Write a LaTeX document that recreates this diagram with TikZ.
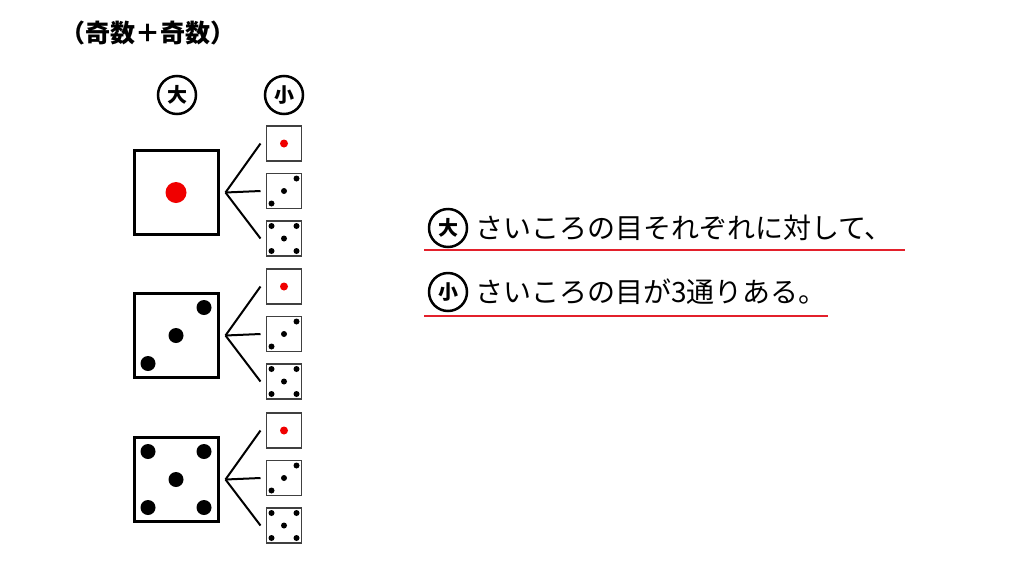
\documentclass[tikz,border=0pt]{standalone}
\usepackage{fontspec}
\newfontfamily\jp{Noto Sans CJK JP}
\definecolor{dotred}{HTML}{F00000}
\definecolor{linered}{HTML}{E3202B}
\begin{document}
\begin{tikzpicture}[x=1pt,y=-1pt,
  bigdie/.style={draw=black,line width=3pt,minimum size=84pt,inner sep=0pt,outer sep=0pt},
  smalldie/.style={draw=black!75,line width=1.5pt,minimum size=35pt,inner sep=0pt,outer sep=0pt},
  branch/.style={line width=2pt,black},
  labcirc/.style={circle,draw=black,line width=2.5pt,minimum size=38pt,inner sep=0pt,font=\jp\bfseries\fontsize{20}{20}\selectfont},
  txtcirc/.style={circle,draw=black,line width=2.5pt,minimum size=38pt,inner sep=0pt,font=\jp\bfseries\fontsize{20}{20}\selectfont},
  bodytext/.style={anchor=west,inner sep=0pt,font=\jp\fontsize{28}{30}\selectfont},
  uline/.style={draw=linered,line width=2pt}
]
\useasboundingbox (0,0) rectangle (1024,576);
\fill[white] (0,0) rectangle (1024,576);

% title
\node[inner sep=0pt,font=\jp\bfseries\fontsize{25}{25}\selectfont] (title) at (148,33) {（奇数＋奇数）};

% labels
\node[labcirc] (lbig) at (177,95) {大};
\node[labcirc] (lsmall) at (284,95) {小};

% big dice
\foreach \i/\y in {1/192.5,2/335.5,3/479.5}{
  \node[bigdie] (d\i) at (176,\y) {};
  \coordinate (j\i) at ([xshift=7.5pt]d\i.east);
  \foreach \k/\dy in {1/-49,2/-1.5,3/46}{
    \node[smalldie] (s\i\k) at (284,\y+\dy) {};
    \draw[branch] (j\i) -- ([xshift=-6pt]s\i\k.west);
  }
  % small die faces
  \fill[dotred] (s\i1) circle (4);
  \fill (s\i2) circle (3);
  \fill ([shift={(-12.5,12.5)}]s\i2.center) circle (3);
  \fill ([shift={(12.5,-12.5)}]s\i2.center) circle (3);
  \fill (s\i3) circle (3);
  \fill ([shift={(-12.5,12.5)}]s\i3.center) circle (3);
  \fill ([shift={(12.5,-12.5)}]s\i3.center) circle (3);
  \fill ([shift={(-12.5,-12.5)}]s\i3.center) circle (3);
  \fill ([shift={(12.5,12.5)}]s\i3.center) circle (3);
}
% big die faces
\fill[dotred] (d1) circle (10.5);
\fill (d2) circle (7.5);
\fill ([shift={(-28,28)}]d2.center) circle (7.5);
\fill ([shift={(28,-28)}]d2.center) circle (7.5);
\fill (d3) circle (7.5);
\fill ([shift={(-28,28)}]d3.center) circle (7.5);
\fill ([shift={(28,-28)}]d3.center) circle (7.5);
\fill ([shift={(-28,-28)}]d3.center) circle (7.5);
\fill ([shift={(28,28)}]d3.center) circle (7.5);

% right text
\node[txtcirc] (c1) at (448,228) {大};
\node[bodytext] (t1) at (475,228) {さいころの目それぞれに対して、};
\node[txtcirc] (c2) at (448,292) {小};
\node[bodytext] (t2) at (475,292) {さいころの目が3通りある。};
\draw[uline] (424,250) -- (905,250);
\draw[uline] (424,316) -- (828,316);
\end{tikzpicture}
\end{document}
